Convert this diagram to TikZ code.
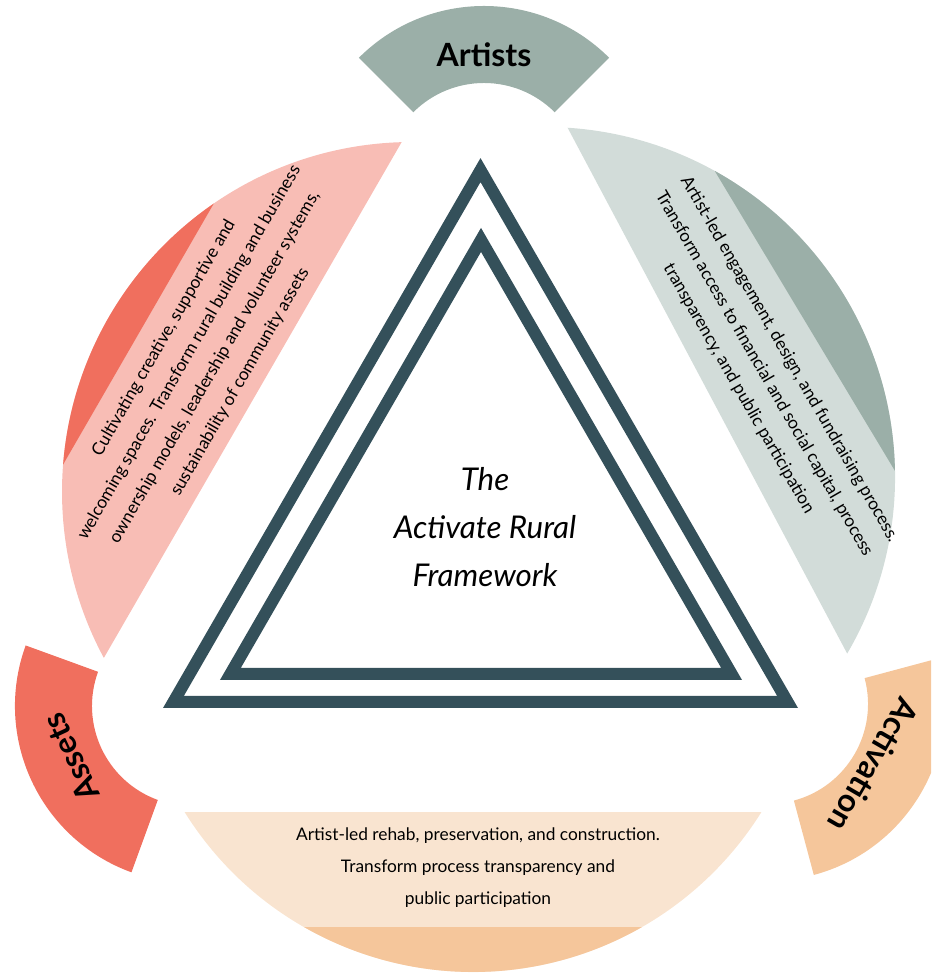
\documentclass[tikz,border=0pt]{standalone}
\usepackage{fontspec}
\setmainfont{Lato}
\usetikzlibrary{calc}
\definecolor{slate}{HTML}{34505A}
\definecolor{pinklt}{HTML}{F8BDB5}
\definecolor{coral}{HTML}{F06F5E}
\definecolor{greylt}{HTML}{D2DCD9}
\definecolor{greydk}{HTML}{9BAFA8}
\definecolor{peachlt}{HTML}{F9E4D0}
\definecolor{peachdk}{HTML}{F5C69B}
\tikzset{
  body/.style={font=\fontsize{13}{22}\selectfont,align=center,inner sep=0pt},
  tablabel/.style={font=\fontsize{24}{28}\selectfont\bfseries,inner sep=0pt},
  tri/.style={draw=slate,line width=9pt,line join=miter}
}
\begin{document}
\begin{tikzpicture}[x=0.75pt,y=0.75pt]
	\useasboundingbox (0,0) rectangle (931,973);
	\clip (0,0) rectangle (931,973);
	\foreach \a/\sx/\sy/\r/\h/\ca/\cb/\lt/\dk in {-90/473/341/340/58/-119.8/-60.2/peachlt/peachdk,150/412/481/350/58.3/124.5/175.5/pinklt/coral,28/545/496/350/58.3/1/61/greylt/greydk}{
		\coordinate (S) at (\sx,\sy);
		\fill[\lt] ($(S)+(\a-\h:\r)$) arc[start angle=\a-\h,end angle=\a+\h,radius=\r] -- cycle;
		\fill[\dk] ($(S)+(\ca:\r)$) arc[start angle=\ca,end angle=\cb,radius=\r] -- cycle;
	}
	\foreach \x/\y/\a/\col in {484/790/90/greydk,192/267/205/coral,768/269/-30/peachdk}
		\fill[\col] ($(\x,\y)+(\a-45:100)$) arc[start angle=\a-45,end angle=\a+45,radius=100]
			-- ($(\x,\y)+(\a+45:177)$) arc[start angle=\a+45,end angle=\a-45,radius=177] -- cycle;
	\node[tablabel] (artists) at (484,918) {Artists};
	\node[tablabel,rotate=115] (assets) at ($(192,267)+(203:132)$) {Assets};
	\node[tablabel,rotate=-120] (activation) at ($(768,269)+(-30:122)$) {Activation};
	\coordinate (T) at (480.5,448.3);
	\coordinate (t) at (481,443.7);
	\draw[tri] ($(T)+(90:354.6)$) -- ($(T)+(210:354.6)$) -- ($(T)+(330:354.6)$) -- cycle;
	\draw[tri] ($(t)+(90:289.4)$) -- ($(t)+(210:289.4)$) -- ($(t)+(330:289.4)$) -- cycle;
	\node[align=center,font=\fontsize{23.5}{36}\selectfont\itshape] (title) at (485,446) {The\\Activate Rural\\Framework};
	\node[body,rotate=60] (assetstxt) at (202,613) {Cultivating creative, supportive and\\welcoming spaces. Transform rural building and business\\ownership models, leadership and volunteer systems,\\sustainability of community assets};
	\node[body,rotate=-60] (artiststxt) at (764,599) {Artist-led engagement, design, and fundraising process.\\Transform access to financial and social capital, process\\transparency, and public participation};
	\node[body,font=\fontsize{13}{24}\selectfont] (activationtxt) at (478,105) {Artist-led rehab, preservation, and construction.\\Transform process transparency and\\public participation};
\end{tikzpicture}
\end{document}
